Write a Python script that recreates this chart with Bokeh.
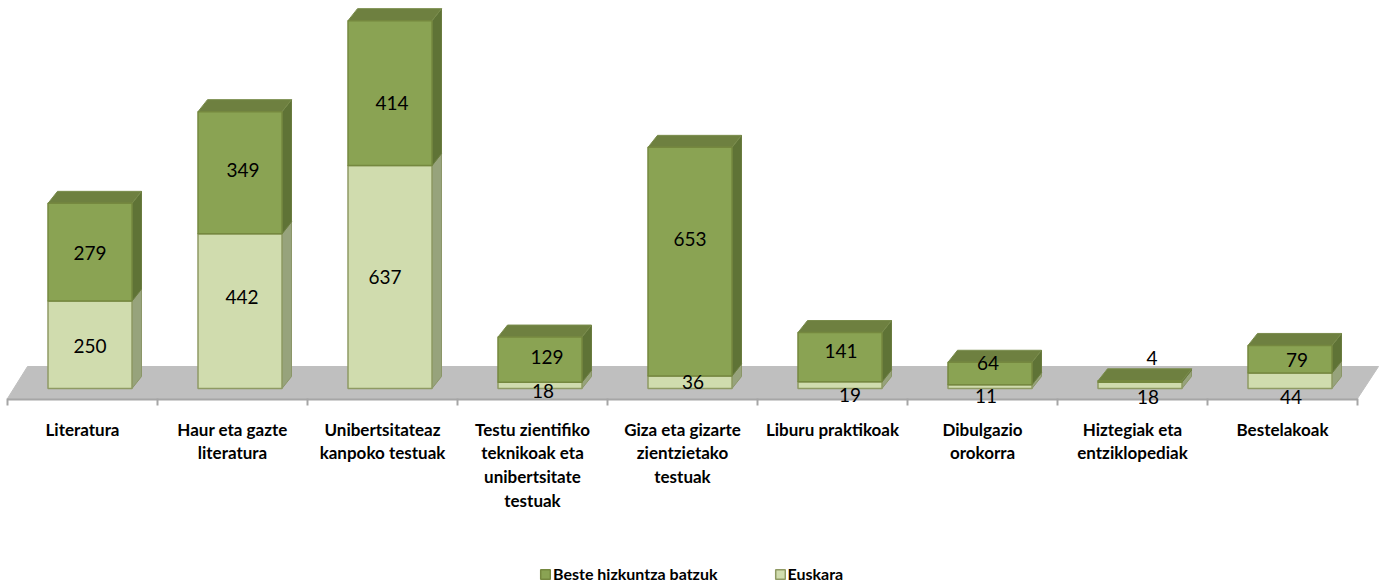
from bokeh.plotting import figure
from bokeh.models import Range1d, Legend, LegendItem
from bokeh.core.properties import value
from bokeh.embed import file_html
from bokeh.resources import INLINE

categories = ["Literatura", "Haur eta gazte\nliteratura", "Unibertsitateaz\nkanpoko testuak",
              "Testu zientifiko\nteknikoak eta\nunibertsitate\ntestuak", "Giza eta gizarte\nzientzietako\ntestuak",
              "Liburu praktikoak", "Dibulgazio\norokorra", "Hiztegiak eta\nentziklopediak", "Bestelakoak"]
euskara = [250, 442, 637, 18, 36, 19, 11, 18, 44]
beste = [279, 349, 414, 129, 653, 141, 64, 4, 79]

# label nudges in screen px (x, y-down)
euskara_nudge = [(0, 1), (2, -14), (-5, 0), (3, 6), (3, 0), (10, 10), (-4, 9), (8, 12), (1, 16)]
beste_nudge = [(0, 1), (3, -3), (2, 10), (7, -3), (0, -23), (1, -6), (-2, -10), (12, -24), (7, 1)]

W, H = 1384, 587
PX_PER_UNIT = 0.35
PX_PER_CAT = 150
BASE_Y = 388      # page y of value 0
ORIGIN_X = 7      # page x of first tick
def X(px): return (px - ORIGIN_X) / PX_PER_CAT
def Y(py): return (BASE_Y - py) / PX_PER_UNIT

BAR_W = 84 / PX_PER_CAT
BAR_SHIFT = 7.5 / PX_PER_CAT
DX = 9.5 / PX_PER_CAT
DY = 12 / PX_PER_UNIT

p = figure(width=W, height=H, output_backend="svg", toolbar_location=None,
           x_range=Range1d(X(0), X(W)), y_range=Range1d(Y(H), Y(0)),
           min_border=0, outline_line_color=None, background_fill_color="white", border_fill_color="white")
p.axis.visible = False
p.grid.visible = False

# floor
p.patch([X(7), X(1357), X(1378), X(27)], [Y(398), Y(398), Y(366), Y(366)], fill_color="#bfbfbf", line_color="#bfbfbf")
p.segment([X(7)], [Y(399)], [X(1357)], [Y(399)], line_color="#a6a6a6", line_width=2)
ticks = list(range(len(categories) + 1))
p.segment(ticks, [Y(398)] * len(ticks), ticks, [Y(405)] * len(ticks), line_color="#a6a6a6", line_width=2)

centers = [i + 0.5 for i in range(len(categories))]
bar_centers = [c + BAR_SHIFT for c in centers]

def bar_sources(bottoms, tops):
    lefts = [c - BAR_W / 2 for c in bar_centers]
    rights = [l + BAR_W for l in lefts]
    side_x = [[r, r + DX, r + DX, r] for r in rights]
    side_y = [[b, b + DY, t + DY, t] for b, t in zip(bottoms, tops)]
    top_x = [[l, l + DX, r + DX, r] for l, r in zip(lefts, rights)]
    top_y = [[t, t + DY, t + DY, t] for t in tops]
    return lefts, rights, side_x, side_y, top_x, top_y

tops1 = list(euskara)
tops2 = [a + b for a, b in zip(euskara, beste)]

l, r, sx, sy, tx, ty = bar_sources([0] * len(euskara), tops1)
p.patches(sx, sy, fill_color="#97a37c", line_color="#8b9668", line_width=1)
p.patches(tx, ty, fill_color="#a9b585", line_color="#8b9668", line_width=1)
front_light = p.quad(left=l, right=r, bottom=[0] * len(l), top=tops1, fill_color="#d0dcae", line_color="#8f9a64", line_width=1.5)

l, r, sx, sy, tx, ty = bar_sources(tops1, tops2)
p.patches(sx, sy, fill_color="#5f7336", line_color="#6a7c40", line_width=1)
p.patches(tx, ty, fill_color="#6e8040", line_color="#7a8c4c", line_width=1)
front_dark = p.quad(left=l, right=r, bottom=tops1, top=tops2, fill_color="#8aa353", line_color="#75883f", line_width=1.5)

# value labels
num_font = dict(text_font=value("Lato"), text_font_size="19px", text_color="#000000",
                text_align="center", text_baseline="middle")
p.text(bar_centers, [v / 2 for v in euskara], text=[str(v) for v in euskara],
       x_offset=[n[0] for n in euskara_nudge], y_offset=[n[1] for n in euskara_nudge], **num_font)
p.text(bar_centers, [a + b / 2 for a, b in zip(euskara, beste)], text=[str(v) for v in beste],
       x_offset=[n[0] for n in beste_nudge], y_offset=[n[1] for n in beste_nudge], **num_font)

# category labels
p.text(centers, [Y(418)] * len(centers), text=categories, text_font=value("Lato"), text_font_style="bold",
       text_font_size="17px", text_color="#000000", text_align="center", text_baseline="top", text_line_height=1.14)

legend = Legend(items=[LegendItem(label="Beste hizkuntza batzuk", renderers=[front_dark]),
                       LegendItem(label="Euskara", renderers=[front_light])],
                orientation="horizontal", location=(539, 4), border_line_color=None,
                background_fill_alpha=0, padding=0, margin=0, spacing=56,
                glyph_width=12, glyph_height=12, label_standoff=2, label_height=12,
                label_text_font="Lato", label_text_font_style="bold", label_text_font_size="16px", label_text_color="#000000")
p.add_layout(legend, "center")

open("out.html", "w").write(file_html(p, INLINE))
